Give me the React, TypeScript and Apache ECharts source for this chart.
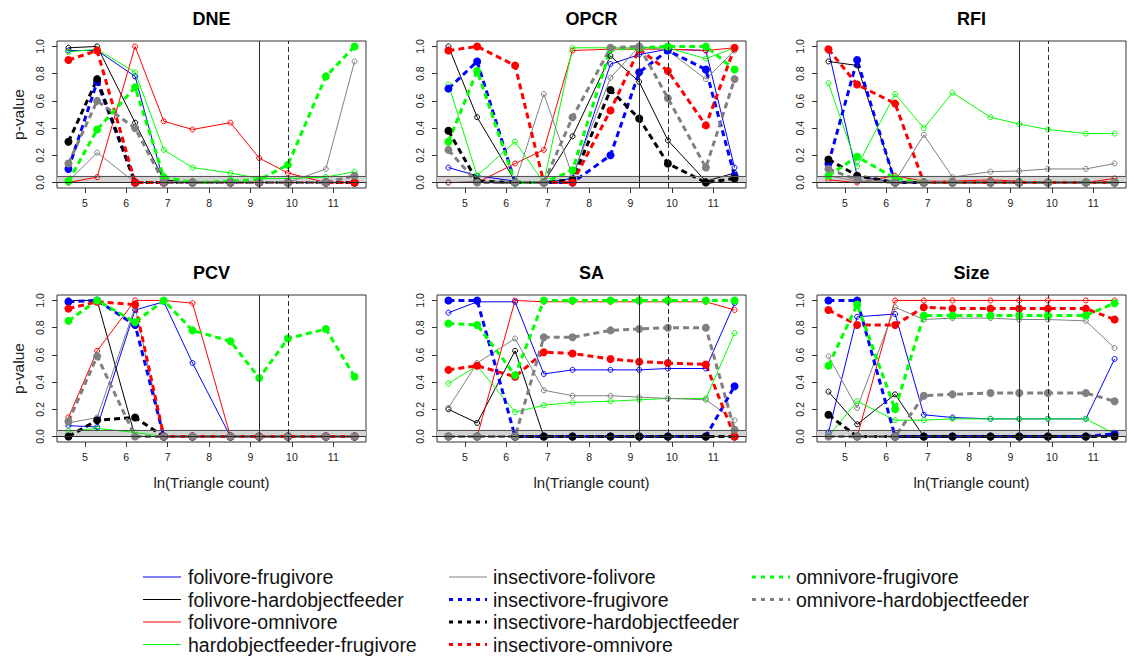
import { useEffect, useRef } from "react";
import * as echarts from "echarts";

// Sampled mesh resolutions; the x axis shows their natural log.
const triangleCounts = [100, 200, 500, 1000, 2000, 5000, 10000, 20000, 50000, 100000];

// Dietary pairs, in legend order (first five thin/solid, last five thick/dashed).
const pairNames = [
  "folivore-frugivore",
  "folivore-hardobjectfeeder",
  "folivore-omnivore",
  "hardobjectfeeder-frugivore",
  "insectivore-folivore",
  "insectivore-frugivore",
  "insectivore-hardobjectfeeder",
  "insectivore-omnivore",
  "omnivore-frugivore",
  "omnivore-hardobjectfeeder",
];
const pairColors = [
  "#0000FF", "#000000", "#FF0000", "#00FF00", "#808080",
  "#0000FF", "#000000", "#FF0000", "#00FF00", "#808080",
];
const pairDashed = [false, false, false, false, false, true, true, true, true, true];

const panelTitles = ["DNE", "OPCR", "RFI", "PCV", "SA", "Size"];

// p-values per pair (rows follow pairNames), one column per triangle count
const dne = [
  [0.97, 0.97, 0.78, 0.0, 0.0, 0.0, 0.0, 0.0, 0.0, 0.0],
  [0.99, 1.0, 0.44, 0.02, 0.0, 0.0, 0.0, 0.0, 0.0, 0.0],
  [0.0, 0.04, 1.0, 0.45, 0.39, 0.44, 0.18, 0.07, 0.0, 0.0],
  [0.96, 0.98, 0.81, 0.24, 0.11, 0.07, 0.03, 0.03, 0.04, 0.08],
  [0.01, 0.22, 0.0, 0.0, 0.0, 0.0, 0.0, 0.0, 0.1, 0.89],
  [0.1, 0.74, 0.0, 0.0, 0.0, 0.0, 0.0, 0.0, 0.0, 0.0],
  [0.3, 0.76, 0.0, 0.0, 0.0, 0.0, 0.0, 0.0, 0.0, 0.0],
  [0.9, 0.97, 0.0, 0.0, 0.0, 0.0, 0.0, 0.0, 0.0, 0.0],
  [0.01, 0.39, 0.7, 0.04, 0.0, 0.01, 0.02, 0.13, 0.78, 1.0],
  [0.14, 0.6, 0.4, 0.0, 0.0, 0.0, 0.0, 0.0, 0.0, 0.05],
];
const opcr = [
  [0.11, 0.05, 0.01, 0.0, 0.03, 0.87, 0.94, 0.98, 0.97, 0.11],
  [1.0, 0.48, 0.01, 0.0, 0.34, 0.93, 0.74, 0.31, 0.01, 0.07],
  [0.0, 0.0, 0.14, 0.24, 0.97, 0.98, 0.98, 0.98, 0.97, 0.99],
  [0.72, 0.05, 0.3, 0.0, 0.99, 0.99, 0.99, 0.99, 0.91, 0.99],
  [0.0, 0.01, 0.0, 0.65, 0.05, 0.77, 1.0, 0.97, 0.76, 0.97],
  [0.69, 0.89, 0.0, 0.0, 0.0, 0.2, 0.81, 0.97, 0.83, 0.05],
  [0.38, 0.01, 0.0, 0.0, 0.02, 0.68, 0.47, 0.14, 0.0, 0.03],
  [0.97, 1.0, 0.86, 0.0, 0.0, 0.53, 0.98, 0.82, 0.42, 0.99],
  [0.3, 0.82, 0.0, 0.0, 0.09, 0.98, 0.99, 1.0, 1.0, 0.83],
  [0.24, 0.0, 0.0, 0.0, 0.48, 0.99, 1.0, 0.62, 0.11, 0.76],
];
const rfi = [
  [0.97, 0.05, 0.0, 0.0, 0.0, 0.0, 0.0, 0.0, 0.0, 0.0],
  [0.89, 0.86, 0.01, 0.0, 0.0, 0.0, 0.0, 0.0, 0.0, 0.0],
  [0.02, 0.0, 0.05, 0.01, 0.01, 0.02, 0.01, 0.0, 0.0, 0.03],
  [0.73, 0.12, 0.65, 0.4, 0.66, 0.48, 0.43, 0.39, 0.36, 0.36],
  [0.05, 0.01, 0.01, 0.35, 0.04, 0.08, 0.085, 0.1, 0.1, 0.14],
  [0.14, 0.9, 0.0, 0.0, 0.0, 0.0, 0.0, 0.0, 0.0, 0.0],
  [0.17, 0.05, 0.0, 0.0, 0.0, 0.0, 0.0, 0.0, 0.0, 0.0],
  [0.98, 0.72, 0.58, 0.0, 0.0, 0.0, 0.0, 0.0, 0.0, 0.0],
  [0.05, 0.19, 0.03, 0.0, 0.0, 0.0, 0.0, 0.0, 0.0, 0.0],
  [0.1, 0.02, 0.0, 0.0, 0.0, 0.0, 0.0, 0.0, 0.0, 0.0],
];
const pcv = [
  [0.08, 0.07, 0.93, 0.99, 0.54, 0.0, 0.0, 0.0, 0.0, 0.0],
  [1.0, 1.0, 0.0, 0.0, 0.0, 0.0, 0.0, 0.0, 0.0, 0.0],
  [0.14, 0.63, 1.0, 1.0, 0.98, 0.0, 0.0, 0.0, 0.0, 0.0],
  [0.04, 0.06, 0.03, 0.0, 0.0, 0.0, 0.0, 0.0, 0.0, 0.0],
  [0.1, 0.14, 0.95, 0.0, 0.0, 0.0, 0.0, 0.0, 0.0, 0.0],
  [0.99, 1.0, 0.82, 0.0, 0.0, 0.0, 0.0, 0.0, 0.0, 0.0],
  [0.0, 0.12, 0.14, 0.0, 0.0, 0.0, 0.0, 0.0, 0.0, 0.0],
  [0.94, 0.99, 0.97, 0.0, 0.0, 0.0, 0.0, 0.0, 0.0, 0.0],
  [0.85, 1.0, 0.84, 1.0, 0.78, 0.7, 0.43, 0.72, 0.79, 0.44],
  [0.11, 0.59, 0.0, 0.0, 0.0, 0.0, 0.0, 0.0, 0.0, 0.0],
];
const sa = [
  [0.91, 0.99, 0.99, 0.46, 0.49, 0.49, 0.49, 0.5, 0.5, 0.98],
  [0.2, 0.1, 0.63, 0.0, 0.0, 0.0, 0.0, 0.0, 0.0, 0.0],
  [0.0, 0.0, 1.0, 0.99, 0.99, 0.99, 0.99, 0.99, 0.99, 0.93],
  [0.39, 0.52, 0.18, 0.23, 0.25, 0.26, 0.27, 0.28, 0.28, 0.76],
  [0.21, 0.54, 0.72, 0.34, 0.3, 0.3, 0.29, 0.28, 0.27, 0.12],
  [1.0, 1.0, 0.0, 0.0, 0.0, 0.0, 0.0, 0.0, 0.0, 0.37],
  [0.0, 0.0, 0.0, 0.0, 0.0, 0.0, 0.0, 0.0, 0.0, 0.0],
  [0.49, 0.52, 0.44, 0.62, 0.61, 0.57, 0.55, 0.54, 0.53, 0.0],
  [0.83, 0.82, 0.45, 1.0, 1.0, 1.0, 1.0, 1.0, 1.0, 1.0],
  [0.0, 0.0, 0.0, 0.73, 0.73, 0.78, 0.79, 0.8, 0.8, 0.05],
];
const size = [
  [0.03, 0.88, 0.9, 0.16, 0.14, 0.13, 0.13, 0.13, 0.13, 0.57],
  [0.33, 0.09, 0.31, 0.0, 0.0, 0.0, 0.0, 0.0, 0.0, 0.0],
  [0.0, 0.0, 1.0, 1.0, 1.0, 1.0, 1.0, 1.0, 1.0, 1.0],
  [0.0, 0.26, 0.12, 0.12, 0.13, 0.13, 0.13, 0.13, 0.13, 0.02],
  [0.59, 0.21, 0.95, 0.86, 0.87, 0.87, 0.86, 0.86, 0.85, 0.65],
  [1.0, 1.0, 0.0, 0.0, 0.0, 0.0, 0.0, 0.0, 0.0, 0.02],
  [0.16, 0.0, 0.0, 0.0, 0.0, 0.0, 0.0, 0.0, 0.0, 0.0],
  [0.93, 0.82, 0.82, 0.95, 0.94, 0.94, 0.94, 0.94, 0.94, 0.86],
  [0.52, 0.97, 0.2, 0.89, 0.89, 0.89, 0.89, 0.89, 0.89, 0.98],
  [0.0, 0.0, 0.0, 0.3, 0.31, 0.32, 0.32, 0.32, 0.32, 0.26],
];
const panelData = [dne, opcr, rfi, pcv, sa, size];

const xTicks = [5, 6, 7, 8, 9, 10, 11];
const yTicks = [0, 0.2, 0.4, 0.6, 0.8, 1.0];
const alphaLevel = 0.05;
const refCountSolid = 10000;
const refCountDashed = 20000;

const FONT = "'Liberation Sans', Arial, sans-serif";
const W = 1134;
const H = 658;
const colLefts = [57, 437, 817];
const rowTops = [41, 295];
const plotW = 309;
const plotH = 147;

function buildOption() {
  const lnX = triangleCounts.map((c) => Math.log(c));
  const xSpan = lnX[lnX.length - 1] - lnX[0];
  const xMin = lnX[0] - 0.04 * xSpan;
  const xMax = lnX[lnX.length - 1] + 0.04 * xSpan;

  const grid: any[] = [];
  const xAxis: any[] = [];
  const yAxis: any[] = [];
  const series: any[] = [];
  const graphic: any[] = [];

  panelData.forEach((rows, p) => {
    const col = p % 3;
    const row = Math.floor(p / 3);
    const left = colLefts[col];
    const top = rowTops[row];
    grid.push({
      left,
      top,
      width: plotW,
      height: plotH,
      show: true,
      borderColor: "#333",
      borderWidth: 1,
      backgroundColor: "transparent",
    });
    xAxis.push({
      type: "value",
      gridIndex: p,
      min: xMin,
      max: xMax,
      axisLine: { show: false, onZero: false },
      splitLine: { show: false },
      axisTick: { show: true, customValues: xTicks, length: 5, lineStyle: { color: "#333" } },
      axisLabel: {
        customValues: xTicks,
        fontSize: 10.5,
        fontFamily: FONT,
        color: "#222",
        margin: 9,
      },
    });
    yAxis.push({
      type: "value",
      gridIndex: p,
      min: -0.04,
      max: 1.04,
      axisLine: { show: false, onZero: false },
      splitLine: { show: false },
      axisTick: { show: true, customValues: yTicks, length: 5, lineStyle: { color: "#333" } },
      axisLabel: {
        customValues: yTicks,
        rotate: 90,
        fontSize: 10.5,
        fontFamily: FONT,
        color: "#222",
        margin: 12,
        formatter: (v: number) => v.toFixed(1),
      },
    });

    // significance band and reference resolutions
    series.push({
      type: "line",
      xAxisIndex: p,
      yAxisIndex: p,
      data: [],
      silent: true,
      z: 1,
      markArea: {
        silent: true,
        itemStyle: { color: "#d3d3d3" },
        data: [[{ yAxis: 0 }, { yAxis: alphaLevel }]],
      },
      markLine: {
        silent: true,
        symbol: ["none", "none"],
        label: { show: false },
        lineStyle: { color: "#2a2a2a", width: 1, type: "solid" },
        data: [
          { yAxis: 0 },
          { yAxis: alphaLevel, lineStyle: { color: "#555" } },
          { xAxis: Math.log(refCountSolid) },
          { xAxis: Math.log(refCountDashed), lineStyle: { type: [5, 3] } },
        ],
      },
    });

    rows.forEach((vals, k) => {
      const color = pairColors[k];
      const thick = pairDashed[k];
      series.push({
        type: "line",
        name: pairNames[k],
        xAxisIndex: p,
        yAxisIndex: p,
        data: lnX.map((x, j) => [x, vals[j]]),
        z: 2,
        symbol: "circle",
        symbolSize: thick ? 8 : 5,
        showAllSymbol: true,
        lineStyle: {
          color,
          width: thick ? 3 : 1,
          type: thick ? [6, 4] : "solid",
        },
        itemStyle: thick
          ? { color, borderColor: color, borderWidth: 0 }
          : { color: "rgba(0,0,0,0)", borderColor: color, borderWidth: 1 },
        emphasis: { disabled: true },
      });
    });

    // panel title
    graphic.push({
      type: "text",
      x: left + plotW / 2,
      y: top - 22.5,
      style: {
        text: panelTitles[p],
        font: `bold 18px ${FONT}`,
        fill: "#000",
        align: "center",
        verticalAlign: "middle",
      },
    });
    if (col === 0) {
      graphic.push({
        type: "text",
        x: 18,
        y: top + plotH / 2,
        rotation: Math.PI / 2,
        style: {
          text: "p-value",
          font: `15.5px ${FONT}`,
          fill: "#222",
          align: "center",
          verticalAlign: "middle",
        },
      });
    }
    if (row === 1) {
      graphic.push({
        type: "text",
        x: left + plotW / 2,
        y: top + plotH + 40,
        style: {
          text: "ln(Triangle count)",
          font: `15px ${FONT}`,
          fill: "#222",
          align: "center",
          verticalAlign: "middle",
        },
      });
    }
  });

  // legend in three columns
  const legendCols = [
    { lineX: 143, textX: 188, items: [0, 1, 2, 3] },
    { lineX: 449, textX: 493, items: [4, 5, 6, 7] },
    { lineX: 752, textX: 796, items: [8, 9] },
  ];
  const rowYs = [577, 599.5, 622, 644.5];
  legendCols.forEach((c) => {
    c.items.forEach((k, r) => {
      const y = rowYs[r];
      const thick = pairDashed[k];
      graphic.push({
        type: "line",
        shape: { x1: c.lineX, y1: y, x2: c.lineX + 38, y2: y },
        style: {
          stroke: pairColors[k],
          lineWidth: thick ? 3 : 1,
          lineDash: thick ? [4, 5] : null,
        },
      });
      graphic.push({
        type: "text",
        x: c.textX,
        y,
        style: {
          text: pairNames[k],
          font: `19.5px ${FONT}`,
          fill: "#111",
          align: "left",
          verticalAlign: "middle",
        },
      });
    });
  });

  return {
    animation: false,
    backgroundColor: "#fff",
    grid,
    xAxis,
    yAxis,
    series,
    graphic,
  };
}

export default function App() {
  const ref = useRef<HTMLDivElement>(null);
  useEffect(() => {
    document.body.style.margin = "0";
    if (!ref.current) return;
    const chart = echarts.init(ref.current, undefined, { renderer: "svg" });
    chart.setOption(buildOption() as any);
    return () => chart.dispose();
  }, []);
  return <div ref={ref} style={{ width: W, height: H }} />;
}
